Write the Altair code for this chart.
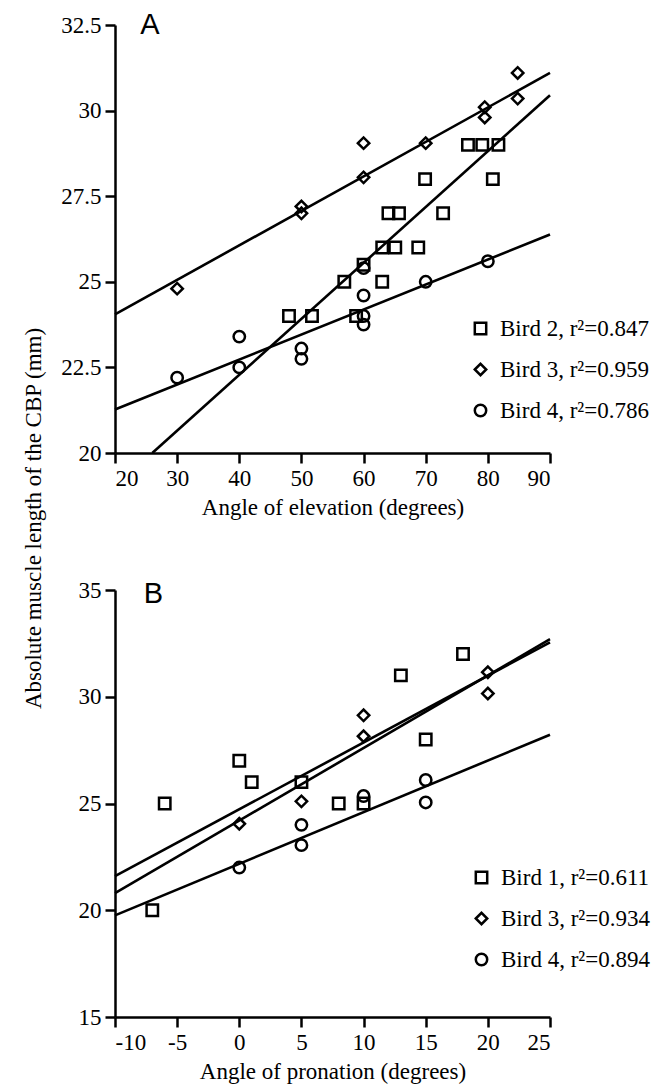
import altair as alt
import pandas as pd

# ---------------- Panel A: angle of elevation ----------------
a_labels = ["Bird 2, r²=0.847", "Bird 3, r²=0.959", "Bird 4, r²=0.786"]
a_bird2_x = [48, 51.7, 56.9, 58.8, 60, 63, 63, 64, 65.7, 65.1, 68.8, 69.9, 72.8, 76.8, 79.1, 81.7, 80.8]
a_bird2_y = [24, 24, 25, 24, 25.5, 26, 25, 27, 27, 26, 26, 28, 27, 29, 29, 29, 28]
a_bird3_x = [30, 50, 50, 60, 60, 70, 79.5, 79.5, 84.8, 84.8]
a_bird3_y = [24.8, 27.2, 27.0, 29.05, 28.05, 29.05, 30.1, 29.8, 31.1, 30.35]
a_bird4_x = [30, 40, 40, 50, 50, 60, 60, 60, 60, 70, 80]
a_bird4_y = [22.2, 23.4, 22.5, 23.05, 22.75, 25.4, 24.6, 24.0, 23.75, 25.0, 25.6]
# fitted regression lines (start and end points)
a_fit_x0 = [26, 20, 20]
a_fit_y0 = [20.0, 24.05, 21.27]
a_fit_x1 = [90, 90, 90]
a_fit_y1 = [30.45, 31.1, 26.38]
a_xticks = [20, 30, 40, 50, 60, 70, 80, 90]
a_yticks = [20, 22.5, 25, 27.5, 30, 32.5]
a_letter = ["A"]
a_letter_x = [25.6]
a_letter_y = [32.5]

# ---------------- Panel B: angle of pronation ----------------
b_labels = ["Bird 1, r²=0.611", "Bird 3, r²=0.934", "Bird 4, r²=0.894"]
b_bird1_x = [-7, -6, 0, 1, 5, 8, 10, 13, 15, 18]
b_bird1_y = [20, 25, 27, 26, 26, 25, 25, 31, 28, 32]
b_bird3_x = [0, 5, 10, 10, 20, 20]
b_bird3_y = [24.05, 25.1, 29.13, 28.15, 31.15, 30.15]
b_bird4_x = [0, 5, 5, 10, 15, 15]
b_bird4_y = [22.0, 24.0, 23.05, 25.35, 26.1, 25.05]
b_fit_x0 = [-10, -10, -10]
b_fit_y0 = [21.6, 20.8, 19.76]
b_fit_x1 = [25, 25, 25]
b_fit_y1 = [32.55, 32.7, 28.22]
b_xticks = [-10, -5, 0, 5, 10, 15, 20, 25]
b_yticks = [15, 20, 25, 30, 35]
b_letter = ["B"]
b_letter_x = [-6.9]
b_letter_y = [34.8]

SERIF = "Liberation Serif"


def points_df(labels, xs_list, ys_list):
    rows = []
    for lab, xs, ys in zip(labels, xs_list, ys_list):
        for xv, yv in zip(xs, ys):
            rows.append({"x": xv, "y": yv, "bird": lab})
    return pd.DataFrame(rows)


def lines_df(labels, x0, y0, x1, y1):
    rows = []
    for i, lab in enumerate(labels):
        rows.append({"x": x0[i], "y": y0[i], "bird": lab})
        rows.append({"x": x1[i], "y": y1[i], "bird": lab})
    return pd.DataFrame(rows)


def panel(pts, lns, letter, labels, xdom, xticks, ydom, yticks, xtitle, yaxis_extra,
          legend_x, legend_y, w, h):
    x_enc = alt.X("x:Q", scale=alt.Scale(domain=xdom, nice=False, zero=False),
                  axis=alt.Axis(values=xticks, title=xtitle, labelExpr="datum.value + ''"))
    y_enc = alt.Y("y:Q", scale=alt.Scale(domain=ydom, nice=False, zero=False),
                  axis=alt.Axis(values=yticks, labelExpr="datum.value + ''", **yaxis_extra))
    line_layer = alt.Chart(lns).mark_line(color="black", strokeWidth=2.6).encode(
        x=x_enc, y=y_enc, detail="bird:N")
    point_layer = alt.Chart(pts).mark_point(
        filled=False, color="black", strokeWidth=2.5, size=130, opacity=1
    ).encode(
        x=x_enc, y=y_enc,
        shape=alt.Shape("bird:N",
                        scale=alt.Scale(domain=labels, range=["square", "diamond", "circle"]),
                        legend=alt.Legend(title=None, orient="none", legendX=legend_x,
                                          legendY=legend_y, labelLimit=400)),
    )
    text_layer = alt.Chart(letter).mark_text(
        font="Liberation Sans", fontSize=29, color="black", align="center", baseline="middle"
    ).encode(x=x_enc, y=y_enc, text="t:N")
    return alt.layer(line_layer, point_layer, text_layer).properties(width=w, height=h)


pa = panel(
    points_df(a_labels, [a_bird2_x, a_bird3_x, a_bird4_x], [a_bird2_y, a_bird3_y, a_bird4_y]),
    lines_df(a_labels, a_fit_x0, a_fit_y0, a_fit_x1, a_fit_y1),
    pd.DataFrame({"x": a_letter_x, "y": a_letter_y, "t": a_letter}),
    a_labels, [20, 90], a_xticks, [20, 32.5], a_yticks,
    "Angle of elevation (degrees)",
    dict(title="Absolute muscle length of the CBP (mm)", titleAngle=270, titleX=-82,
         titleY=493, titleAlign="center", titleBaseline="middle"),
    354, 292, 435, 428,
)

pb = panel(
    points_df(b_labels, [b_bird1_x, b_bird3_x, b_bird4_x], [b_bird1_y, b_bird3_y, b_bird4_y]),
    lines_df(b_labels, b_fit_x0, b_fit_y0, b_fit_x1, b_fit_y1),
    pd.DataFrame({"x": b_letter_x, "y": b_letter_y, "t": b_letter}),
    b_labels, [-10, 25], b_xticks, [15, 35], b_yticks,
    "Angle of pronation (degrees)",
    dict(title=None),
    355, 276, 435, 427,
)

chart = (
    alt.vconcat(pa, pb, spacing=137, bounds="flush")
    .resolve_scale(shape="independent", x="independent", y="independent")
    .resolve_legend(shape="independent")
    .properties(padding={"left": 14, "top": 3, "right": 5, "bottom": 5})
    .configure_view(stroke=None)
    .configure_axis(
        grid=False,
        domainColor="black", domainWidth=2.5,
        tickColor="black", tickWidth=2.5, tickSize=10,
        labelFont=SERIF, labelFontSize=23, labelColor="black", labelPadding=4,
        titleFont=SERIF, titleFontSize=23, titleFontWeight="normal", titleColor="black",
        titlePadding=6,
    )
    .configure_legend(
        labelFont=SERIF, labelFontSize=23, labelColor="black",
        symbolStrokeWidth=2.5, symbolSize=130, symbolStrokeColor="black",
        rowPadding=17, labelOffset=8, padding=0,
    )
)

chart.save("out.html", embed_options={"renderer": "svg", "actions": False})
